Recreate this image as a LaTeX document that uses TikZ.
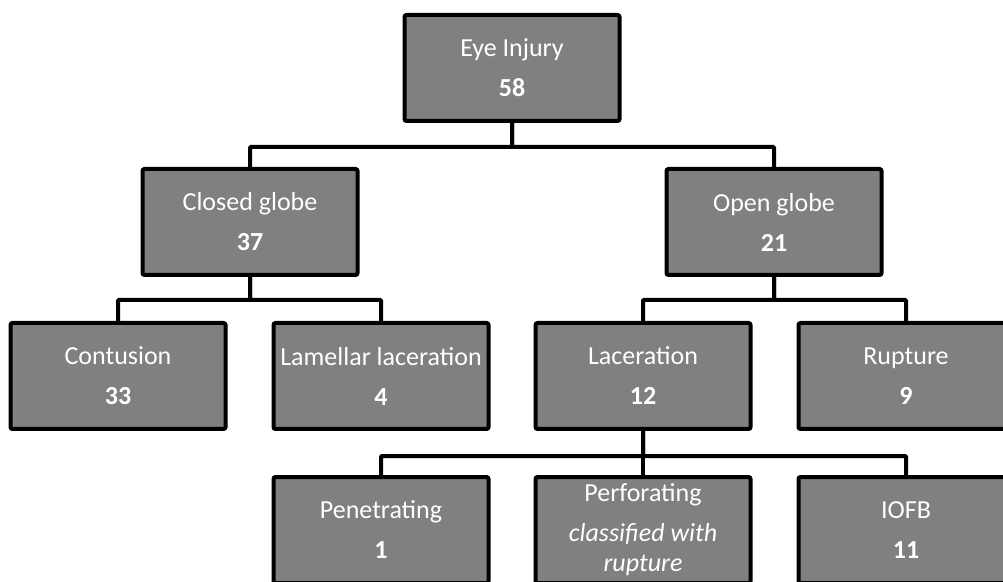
\documentclass[tikz,border=0pt]{standalone}
\usepackage{fontspec}
\setmainfont{Carlito}
\usetikzlibrary{positioning}

\begin{document}
\begin{tikzpicture}[x=1pt, y=1pt,
    box/.style={draw=black, fill=gray, text=white, line width=4pt, rounded corners=2pt,
        minimum width=215pt, minimum height=106pt, inner sep=2pt, align=center,
        font=\fontsize{26}{30}\selectfont},
    link/.style={draw=black, line width=4pt, rounded corners=1pt}]
    \def\ya{513};
    \def\yb{359};
    \def\yc{205};
    \def\yd{51};
    \useasboundingbox (0,0) rectangle (1003,581);
    \clip (0,0) rectangle (1003,581);
    \node[box] at (512, \ya) (eye) {Eye Injury\\[10pt]\textbf{58}};
    \node[box] at (250, \yb) (closed) {Closed globe\\[10pt]\textbf{37}};
    \node[box] at (774, \yb) (open) {Open globe\\[10pt]\textbf{21}};
    \node[box] at (118, \yc) (contusion) {Contusion\\[10pt]\textbf{33}};
    \node[box] at (381, \yc) (lamellar) {Lamellar laceration\\[10pt]\textbf{4}};
    \node[box] at (643, \yc) (laceration) {Laceration\\[10pt]\textbf{12}};
    \node[box] at (906, \yc) (rupture) {Rupture\\[10pt]\textbf{9}};
    \node[box] at (381, \yd) (penetrating) {Penetrating\\[10pt]\textbf{1}};
    \node[box] at (643, \yd) (perforating) {Perforating\\[10pt]\textit{classified with}\\\textit{rupture}};
    \node[box] at (906, \yd) (iofb) {IOFB\\[10pt]\textbf{11}};
    \draw[link] (eye.south) -- ++(0,-24) -| (closed.north);
    \draw[link] (eye.south) -- ++(0,-24) -| (open.north);
    \draw[link] (closed.south) -- ++(0,-23) -| (contusion.north);
    \draw[link] (closed.south) -- ++(0,-23) -| (lamellar.north);
    \draw[link] (open.south) -- ++(0,-23) -| (laceration.north);
    \draw[link] (open.south) -- ++(0,-23) -| (rupture.north);
    \draw[link] (laceration.south) -- ++(0,-25) -| (penetrating.north);
    \draw[link] (laceration.south) -- ++(0,-25) -| (perforating.north);
    \draw[link] (laceration.south) -- ++(0,-25) -| (iofb.north);
\end{tikzpicture}
\end{document}
